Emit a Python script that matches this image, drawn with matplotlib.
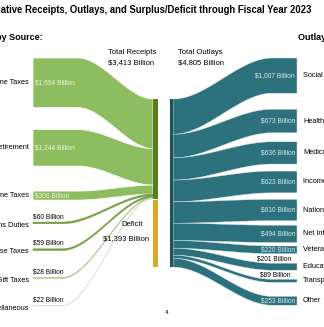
import numpy as np
import matplotlib.pyplot as plt
from matplotlib.patches import Polygon, Rectangle

plt.rcParams['font.family'] = ['Liberation Sans', 'DejaVu Sans']

# receipts by source ($ billion)
src_names = ['Individual Income Taxes', 'Social Insurance and Retirement',
             'Corporation Income Taxes', 'Customs Duties', 'Excise Taxes',
             'Estate and Gift Taxes', 'Miscellaneous']
src_vals = [1694, 1244, 306, 60, 59, 28, 22]

# outlays by function ($ billion)
fun_names = ['Social Security', 'Health', 'Medicare', 'Income Security',
             'National Defense', 'Net Interest', 'Veterans Benefits and Services',
             'Education, Training, Employment, and Social Services',
             'Transportation', 'Other']
fun_vals = [1007, 673, 636, 623, 610, 494, 220, 201, 89, 253]

total_receipts = 3413
total_outlays = 4805
deficit = 1393

# layout (pixels)
S_L = 0.0293                  # px per $ billion, receipts side
S_R = 0.035                   # px per $ billion, outlays side
bar_top = 99
left_gaps = [0, 22, 25, 22, 25, 27, 27]
left_start = 58
right_gaps = [0, 16, 9, 7, 6.5, 4.5, 3.5, 9.5, 9, 14]
right_start = 58

green = '#8dbd5f'
olive = '#5c7b1f'
gold = '#d8a82a'
teal = '#2c717c'
dteal = '#1d525c'

fig = plt.figure(figsize=(3.24, 3.27), dpi=100)
ax = fig.add_axes([0, 0, 1, 1])
ax.set_xlim(0, 324)
ax.set_ylim(327, 0)
ax.axis('off')


def band(xa, x0, t0, b0, x1, t1, b1, xb, color, ec='white', lw=0.4):
    # flat from xa to x0, s-curve from x0 to x1, flat from x1 to xb
    t = np.linspace(0, 1, 80)
    s = 3 * t**2 - 2 * t**3
    xs = np.concatenate([[xa], x0 + (x1 - x0) * t, [xb]])
    top = np.concatenate([[t0], t0 + (t1 - t0) * s, [t1]])
    bot = np.concatenate([[b0], b0 + (b1 - b0) * s, [b1]])
    pts = np.vstack([np.column_stack([xs, top]),
                     np.column_stack([xs[::-1], bot[::-1]])])
    ax.add_patch(Polygon(pts, closed=True, fc=color, ec=ec, lw=lw))


def fmt(v):
    return '${:,} Billion'.format(v)


# ---- left side: receipts
small_cols = ['#6f9f40', '#6f9f40', '#9cc27a', '#d3e0c8']
y = left_start
ybar = bar_top
for i, (name, v) in enumerate(zip(src_names, src_vals)):
    y += left_gaps[i]
    h = v * S_L
    if h > 5:
        band(33, 78, y, y + h, 153, ybar, ybar + h, 153, green, ec='white', lw=0.5)
        ax.text(35, y + h / 2, fmt(v), fontsize=4.8, color='#eef5e4',
                ha='left', va='center')
        ax.text(29, y + h / 2, name, fontsize=5.3, ha='right', va='center')
    else:
        c = small_cols[i - 3]
        band(33, 62, y, y + h, 153, ybar, ybar + h, 153, c, ec=c, lw=0.3)
        ax.text(33, y - 2, fmt(v), fontsize=4.8, ha='left', va='bottom')
        ax.text(29, y + 3, name, fontsize=5.3, ha='right', va='center')
    y += h
    ybar += h

# ---- middle bars
rec_h = total_receipts * S_L
out_h = sum(fun_vals) * S_R
ax.add_patch(Rectangle((153, bar_top), 5, rec_h, fc=olive, ec='none'))
ax.add_patch(Rectangle((153, bar_top + rec_h + 1), 5, out_h - rec_h - 1, fc=gold, ec='none'))
ax.add_patch(Rectangle((169.5, bar_top), 4, out_h, fc=dteal, ec='none'))

ax.text(108, 53, 'Total Receipts', fontsize=5.5, va='center')
ax.text(108, 63, fmt(total_receipts), fontsize=5.5, va='center')
ax.text(178, 53, 'Total Outlays', fontsize=5.5, va='center')
ax.text(178, 63, fmt(total_outlays), fontsize=5.5, va='center')
ax.text(132, 224, 'Deficit', fontsize=5.5, ha='center', va='center')
ax.text(126, 239, fmt(deficit), fontsize=5.5, ha='center', va='center')

# ---- right side: outlays
y = right_start
ybar = bar_top
for i, (name, v) in enumerate(zip(fun_names, fun_vals)):
    y += right_gaps[i]
    h = v * S_R
    band(173.5, 173.5, ybar, ybar + h, 272, y, y + h, 297, teal, ec='#d8e8ea', lw=0.3)
    if h > 7.5:
        ax.text(295, y + h / 2, fmt(v), fontsize=4.8, color='#d8eaee',
                ha='right', va='center')
    else:
        ax.text(291, y - 1, fmt(v), fontsize=4.8, ha='right', va='bottom')
    ax.text(303, y + h / 2, name, fontsize=5.3, ha='left', va='center')
    y += h
    ybar += h

# ---- titles
ax.text(311, 10, 'Cumulative Receipts, Outlays, and Surplus/Deficit through Fiscal Year 2023',
        fontsize=6.85, fontweight='bold', ha='right', va='center')
ax.text(43, 37, 'Receipts by Source:', fontsize=6.5, fontweight='bold',
        ha='right', va='center')
ax.text(298, 37, 'Outlays by Function:', fontsize=6.5, fontweight='bold',
        ha='left', va='center')
ax.text(167, 313, '4', fontsize=4.5, ha='center', va='center')

fig.savefig('out.png', dpi=100)
